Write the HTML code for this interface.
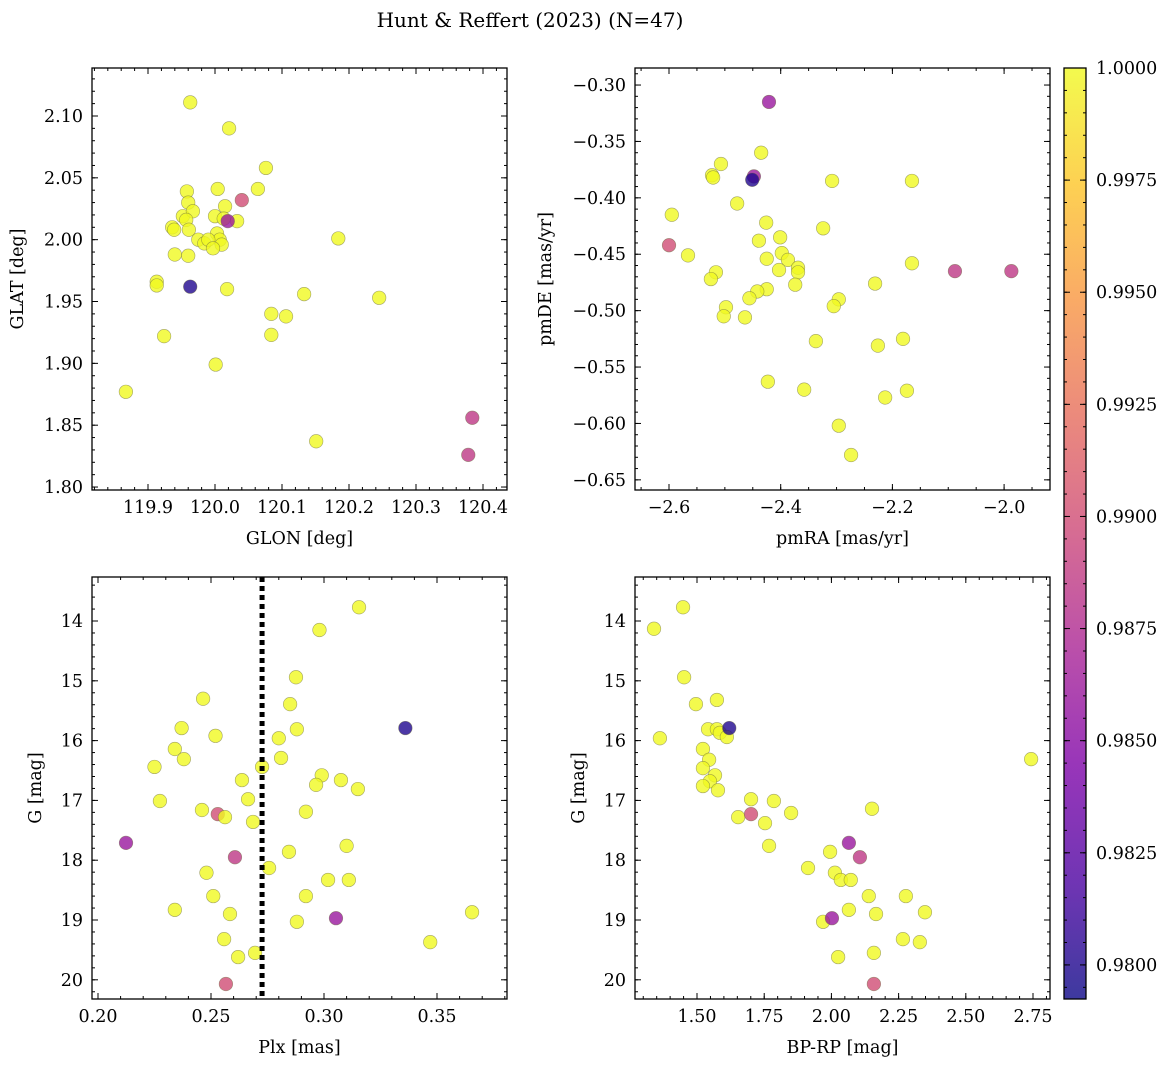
<!DOCTYPE html>
<html><head><meta charset="utf-8"><style>
body{margin:0;background:#fff}
svg{display:block;font-family:"DejaVu Serif","Liberation Serif",serif}
</style></head><body>
<svg id="fig" width="1173" height="1067" viewBox="0 0 1173 1067" xmlns="http://www.w3.org/2000/svg">
<defs><linearGradient id="plasma" x1="0" y1="1" x2="0" y2="0">
<stop offset="0" stop-color="#0d0887"/><stop offset="0.125" stop-color="#4c02a1"/><stop offset="0.25" stop-color="#7e03a8"/><stop offset="0.375" stop-color="#a92395"/><stop offset="0.5" stop-color="#cc4778"/><stop offset="0.625" stop-color="#e66c5c"/><stop offset="0.75" stop-color="#f89540"/><stop offset="0.875" stop-color="#fdc527"/><stop offset="1" stop-color="#f0f921"/>
</linearGradient></defs>
<text x="530" y="27" text-anchor="middle" font-size="20">Hunt &amp; Reffert (2023) (N=47)</text>
</svg>
<script>
// Panel 1: GLON vs GLAT
const p1X=[119.963,120.021,120.076,120.040,120.064,119.958,120.004,119.960,120.015,119.952,119.967,119.957,120.000,120.013,120.033,120.019,119.936,119.939,119.961,120.003,120.007,119.975,119.984,119.990,120.010,119.997,119.940,119.960,120.184,119.913,119.913,119.963,120.018,120.133,120.245,120.084,120.106,119.924,120.084,120.001,119.867,120.151,120.384,120.378];
const p1Y=[2.111,2.090,2.058,2.032,2.041,2.039,2.041,2.030,2.027,2.019,2.023,2.016,2.019,2.017,2.015,2.015,2.010,2.008,2.008,2.005,2.000,2.000,1.997,2.000,1.996,1.993,1.988,1.987,2.001,1.966,1.963,1.962,1.960,1.956,1.953,1.940,1.938,1.922,1.923,1.899,1.877,1.837,1.856,1.826];
const p1C=[1,1,1,0.990,1,1,1,1,1,1,1,1,1,1,1,0.986,1,1,1,1,1,1,1,1,1,1,1,1,1,1,1,0.9800,1,1,1,1,1,1,1,1,1,1,0.9885,0.9885];
// Panel 2: pmRA vs pmDE
const p2X=[-2.421,-2.435,-2.507,-2.523,-2.521,-2.448,-2.451,-2.308,-2.165,-2.595,-2.478,-2.426,-2.324,-2.401,-2.439,-2.600,-2.566,-2.398,-2.387,-2.425,-2.369,-2.369,-2.165,-1.987,-2.088,-2.516,-2.525,-2.403,-2.374,-2.231,-2.425,-2.442,-2.456,-2.296,-2.305,-2.498,-2.502,-2.464,-2.337,-2.181,-2.226,-2.423,-2.358,-2.174,-2.213,-2.296,-2.274];
const p2Y=[-0.315,-0.360,-0.370,-0.380,-0.382,-0.381,-0.384,-0.385,-0.385,-0.415,-0.405,-0.422,-0.427,-0.435,-0.438,-0.442,-0.451,-0.449,-0.455,-0.454,-0.462,-0.466,-0.458,-0.465,-0.465,-0.466,-0.472,-0.464,-0.477,-0.476,-0.481,-0.483,-0.489,-0.490,-0.496,-0.497,-0.505,-0.506,-0.527,-0.525,-0.531,-0.563,-0.570,-0.571,-0.577,-0.602,-0.628];
const p2C=[0.986,1,1,1,1,0.986,0.9800,1,1,1,1,1,1,1,1,0.990,1,1,1,1,1,1,1,0.9885,0.9885,1,1,1,1,1,1,1,1,1,1,1,1,1,1,1,1,1,1,1,1,1,1];
// Panel 3: Plx vs G
const p3X=[0.3155,0.298,0.2876,0.2465,0.285,0.237,0.288,0.336,0.252,0.280,0.234,0.238,0.281,0.2726,0.225,0.299,0.2637,0.3075,0.2965,0.315,0.2274,0.2664,0.246,0.253,0.2562,0.292,0.2686,0.2124,0.310,0.2845,0.2606,0.2757,0.248,0.3018,0.311,0.234,0.251,0.292,0.2584,0.288,0.3053,0.3655,0.2558,0.347,0.2695,0.262,0.2566];
const p3Y=[13.77,14.15,14.94,15.30,15.39,15.79,15.81,15.79,15.92,15.96,16.14,16.31,16.29,16.44,16.44,16.58,16.66,16.66,16.74,16.81,17.01,16.98,17.16,17.23,17.28,17.19,17.36,17.71,17.76,17.86,17.95,18.13,18.21,18.33,18.33,18.83,18.60,18.60,18.90,19.03,18.97,18.87,19.32,19.37,19.55,19.62,20.07];
const p3C=[1,1,1,1,1,1,1,0.9800,1,1,1,1,1,1,1,1,1,1,1,1,1,1,1,0.990,1,1,1,0.986,1,1,0.9885,1,1,1,1,1,1,1,1,1,0.986,1,1,1,1,1,0.990];
const plxLine=0.2726;
// Panel 4: BP-RP vs G
const p4X=[1.340,1.448,1.452,1.362,1.496,1.574,1.541,1.574,1.585,1.611,1.522,1.545,1.522,1.567,1.548,1.522,1.578,2.743,1.701,1.786,1.850,1.653,1.701,1.753,2.151,1.768,2.065,2.106,1.995,1.913,2.013,2.035,2.072,2.139,2.277,2.065,2.166,2.348,1.969,2.002,2.266,2.329,2.158,2.025,2.158,1.620];
const p4Y=[14.13,13.77,14.94,15.96,15.39,15.32,15.81,15.81,15.87,15.94,16.14,16.32,16.46,16.58,16.68,16.76,16.83,16.31,16.98,17.01,17.21,17.28,17.23,17.38,17.14,17.76,17.71,17.95,17.86,18.13,18.21,18.33,18.33,18.60,18.60,18.83,18.90,18.87,19.03,18.97,19.32,19.37,19.55,19.62,20.07,15.79];
const p4C=[1,1,1,1,1,1,1,1,1,1,1,1,1,1,1,1,1,1,1,1,1,1,0.990,1,1,1,0.986,0.9885,1,1,1,1,1,1,1,1,1,1,1,0.986,1,1,1,1,0.990,0.9800];
const cbTicks=[0.98,0.9825,0.985,0.9875,0.99,0.9925,0.995,0.9975,1.0];

const NS="http://www.w3.org/2000/svg";
const svg=document.getElementById('fig');
const FS=17.5;
function mk(tag,attrs,parent){const e=document.createElementNS(NS,tag);for(const k in attrs)e.setAttribute(k,attrs[k]);(parent||svg).appendChild(e);return e;}
const CMIN=0.97924,CMAX=1.0;
const stops=[[13,8,135],[76,2,161],[126,3,168],[169,35,149],[204,71,120],[230,108,92],[248,149,64],[253,197,39],[240,249,33]];
function plasma(v){let t=(v-CMIN)/(CMAX-CMIN);t=Math.max(0,Math.min(1,t));const f=t*8,i=Math.min(7,Math.floor(f)),r=f-i;const a=stops[i],b=stops[i+1];return 'rgb('+a.map((c,j)=>Math.round(c+(b[j]-c)*r)).join(',')+')';}

function panel(o){
  const g=mk('g',{});
  
  
  const sx=v=>o.x0+(v-o.xmin)/(o.xmax-o.xmin)*(o.x1-o.x0);
  const sy=o.yinv?(v=>o.y0+(v-o.ymin)/(o.ymax-o.ymin)*(o.y1-o.y0)):(v=>o.y1-(v-o.ymin)/(o.ymax-o.ymin)*(o.y1-o.y0));
  for(let i=0;i<o.X.length;i++){
    const c=mk('circle',{cx:sx(o.X[i]),cy:sy(o.Y[i]),r:6.8,fill:plasma(o.C[i]),'fill-opacity':0.8,stroke:'#6b6b40','stroke-opacity':0.6,'stroke-width':0.6},g);
    
    
  }
  if(o.vline!==undefined){const l=mk('line',{x1:sx(o.vline),x2:sx(o.vline),y1:o.y0,y2:o.y1,stroke:'#000','stroke-width':5,'stroke-dasharray':'5,4'},g);
    
    }
  const fr=mk('rect',{x:o.x0,y:o.y0,width:o.x1-o.x0,height:o.y1-o.y0,fill:'none',stroke:'#000','stroke-width':1.3},g);
  
  
  const eps=1e-9;
  for(let v=Math.ceil(o.xmin/o.xminor-eps)*o.xminor;v<=o.xmax+eps;v+=o.xminor){const x=sx(v);mk('line',{x1:x,x2:x,y1:o.y1,y2:o.y1-3,stroke:'#000'},g);mk('line',{x1:x,x2:x,y1:o.y0,y2:o.y0+3,stroke:'#000'},g);}
  o.xt.forEach(v=>{const x=sx(v);mk('line',{x1:x,x2:x,y1:o.y1,y2:o.y1-6,stroke:'#000'},g);mk('line',{x1:x,x2:x,y1:o.y0,y2:o.y0+6,stroke:'#000'},g);
    const t=mk('text',{x:x,y:o.y1+23,'text-anchor':'middle','font-size':FS},g);t.textContent=o.xf(v);
    
    });
  for(let v=Math.ceil(o.ymin/o.yminor-eps)*o.yminor;v<=o.ymax+eps;v+=o.yminor){const y=sy(v);mk('line',{x1:o.x0,x2:o.x0+3,y1:y,y2:y,stroke:'#000'},g);mk('line',{x1:o.x1,x2:o.x1-3,y1:y,y2:y,stroke:'#000'},g);}
  o.yt.forEach(v=>{const y=sy(v);mk('line',{x1:o.x0,x2:o.x0+6,y1:y,y2:y,stroke:'#000'},g);mk('line',{x1:o.x1,x2:o.x1-6,y1:y,y2:y,stroke:'#000'},g);
    const t=mk('text',{x:o.x0-9,y:y+6,'text-anchor':'end','font-size':FS},g);t.textContent=o.yf(v);
    
    });
  const xl=mk('text',{x:(o.x0+o.x1)/2,y:o.y1+54,'text-anchor':'middle','font-size':FS},g);xl.textContent=o.xl;
  
  
  const yx=o.ylx,yy=(o.y0+o.y1)/2;
  const yl=mk('text',{x:yx,y:yy,'text-anchor':'middle','font-size':FS,transform:`rotate(-90 ${yx} ${yy})`},g);yl.textContent=o.yl;
  
  
}
const neg=s=>s.replace('-','\u2212');
panel({name:'glon-glat-panel',x0:92,x1:507,y0:68,y1:490,xmin:119.8164,xmax:120.4358,ymin:1.7976,ymax:2.1388,X:p1X,Y:p1Y,C:p1C,
  xt:[119.9,120.0,120.1,120.2,120.3,120.4],xminor:0.02,xf:v=>v.toFixed(1),yt:[1.80,1.85,1.90,1.95,2.00,2.05,2.10],yminor:0.01,yf:v=>v.toFixed(2),xl:'GLON [deg]',yl:'GLAT [deg]',ylx:23});
panel({name:'pmra-pmde-panel',x0:635,x1:1050,y0:68,y1:490,xmin:-2.6609,xmax:-1.9178,ymin:-0.6590,ymax:-0.2849,X:p2X,Y:p2Y,C:p2C,
  xt:[-2.6,-2.4,-2.2,-2.0],xminor:0.05,xf:v=>neg(v.toFixed(1)),yt:[-0.65,-0.60,-0.55,-0.50,-0.45,-0.40,-0.35,-0.30],yminor:0.01,yf:v=>neg(v.toFixed(2)),xl:'pmRA [mas/yr]',yl:'pmDE [mas/yr]',ylx:551});
panel({name:'plx-g-panel',x0:92,x1:507,y0:577,y1:999,xmin:0.19735,xmax:0.38097,ymin:13.264,ymax:20.321,yinv:true,X:p3X,Y:p3Y,C:p3C,vline:plxLine,
  xt:[0.20,0.25,0.30,0.35],xminor:0.01,xf:v=>v.toFixed(2),yt:[14,15,16,17,18,19,20],yminor:0.2,yf:v=>String(v),xl:'Plx [mas]',yl:'G [mag]',ylx:41});
panel({name:'color-magnitude-panel',x0:635,x1:1050,y0:577,y1:999,xmin:1.2693,xmax:2.8132,ymin:13.264,ymax:20.321,yinv:true,X:p4X,Y:p4Y,C:p4C,
  xt:[1.50,1.75,2.00,2.25,2.50,2.75],xminor:0.05,xf:v=>v.toFixed(2),yt:[14,15,16,17,18,19,20],yminor:0.2,yf:v=>String(v),xl:'BP-RP [mag]',yl:'G [mag]',ylx:584});
const cb=mk('g',{});


const cx0=1064,cx1=1086,cy0=68,cy1=999;
mk('rect',{x:cx0,y:cy0,width:cx1-cx0,height:cy1-cy0,fill:'url(#plasma)','fill-opacity':0.8},cb);
mk('rect',{x:cx0,y:cy0,width:cx1-cx0,height:cy1-cy0,fill:'none',stroke:'#000','stroke-width':1.3},cb);
const cy=v=>cy1-(v-CMIN)/(CMAX-CMIN)*(cy1-cy0);
for(let v=0.9795;v<=1.00001;v+=0.0005){const y=cy(v);mk('line',{x1:cx1,x2:cx1-3,y1:y,y2:y,stroke:'#000'},cb);mk('line',{x1:cx0,x2:cx0+3,y1:y,y2:y,stroke:'#000'},cb);}
cbTicks.forEach(v=>{const y=cy(v);mk('line',{x1:cx1,x2:cx1-6,y1:y,y2:y,stroke:'#000'},cb);mk('line',{x1:cx0,x2:cx0+6,y1:y,y2:y,stroke:'#000'},cb);
  const t=mk('text',{x:cx1+10,y:y+6,'font-size':FS},cb);t.textContent=v.toFixed(4);
  
  });
</script>
</body></html>
